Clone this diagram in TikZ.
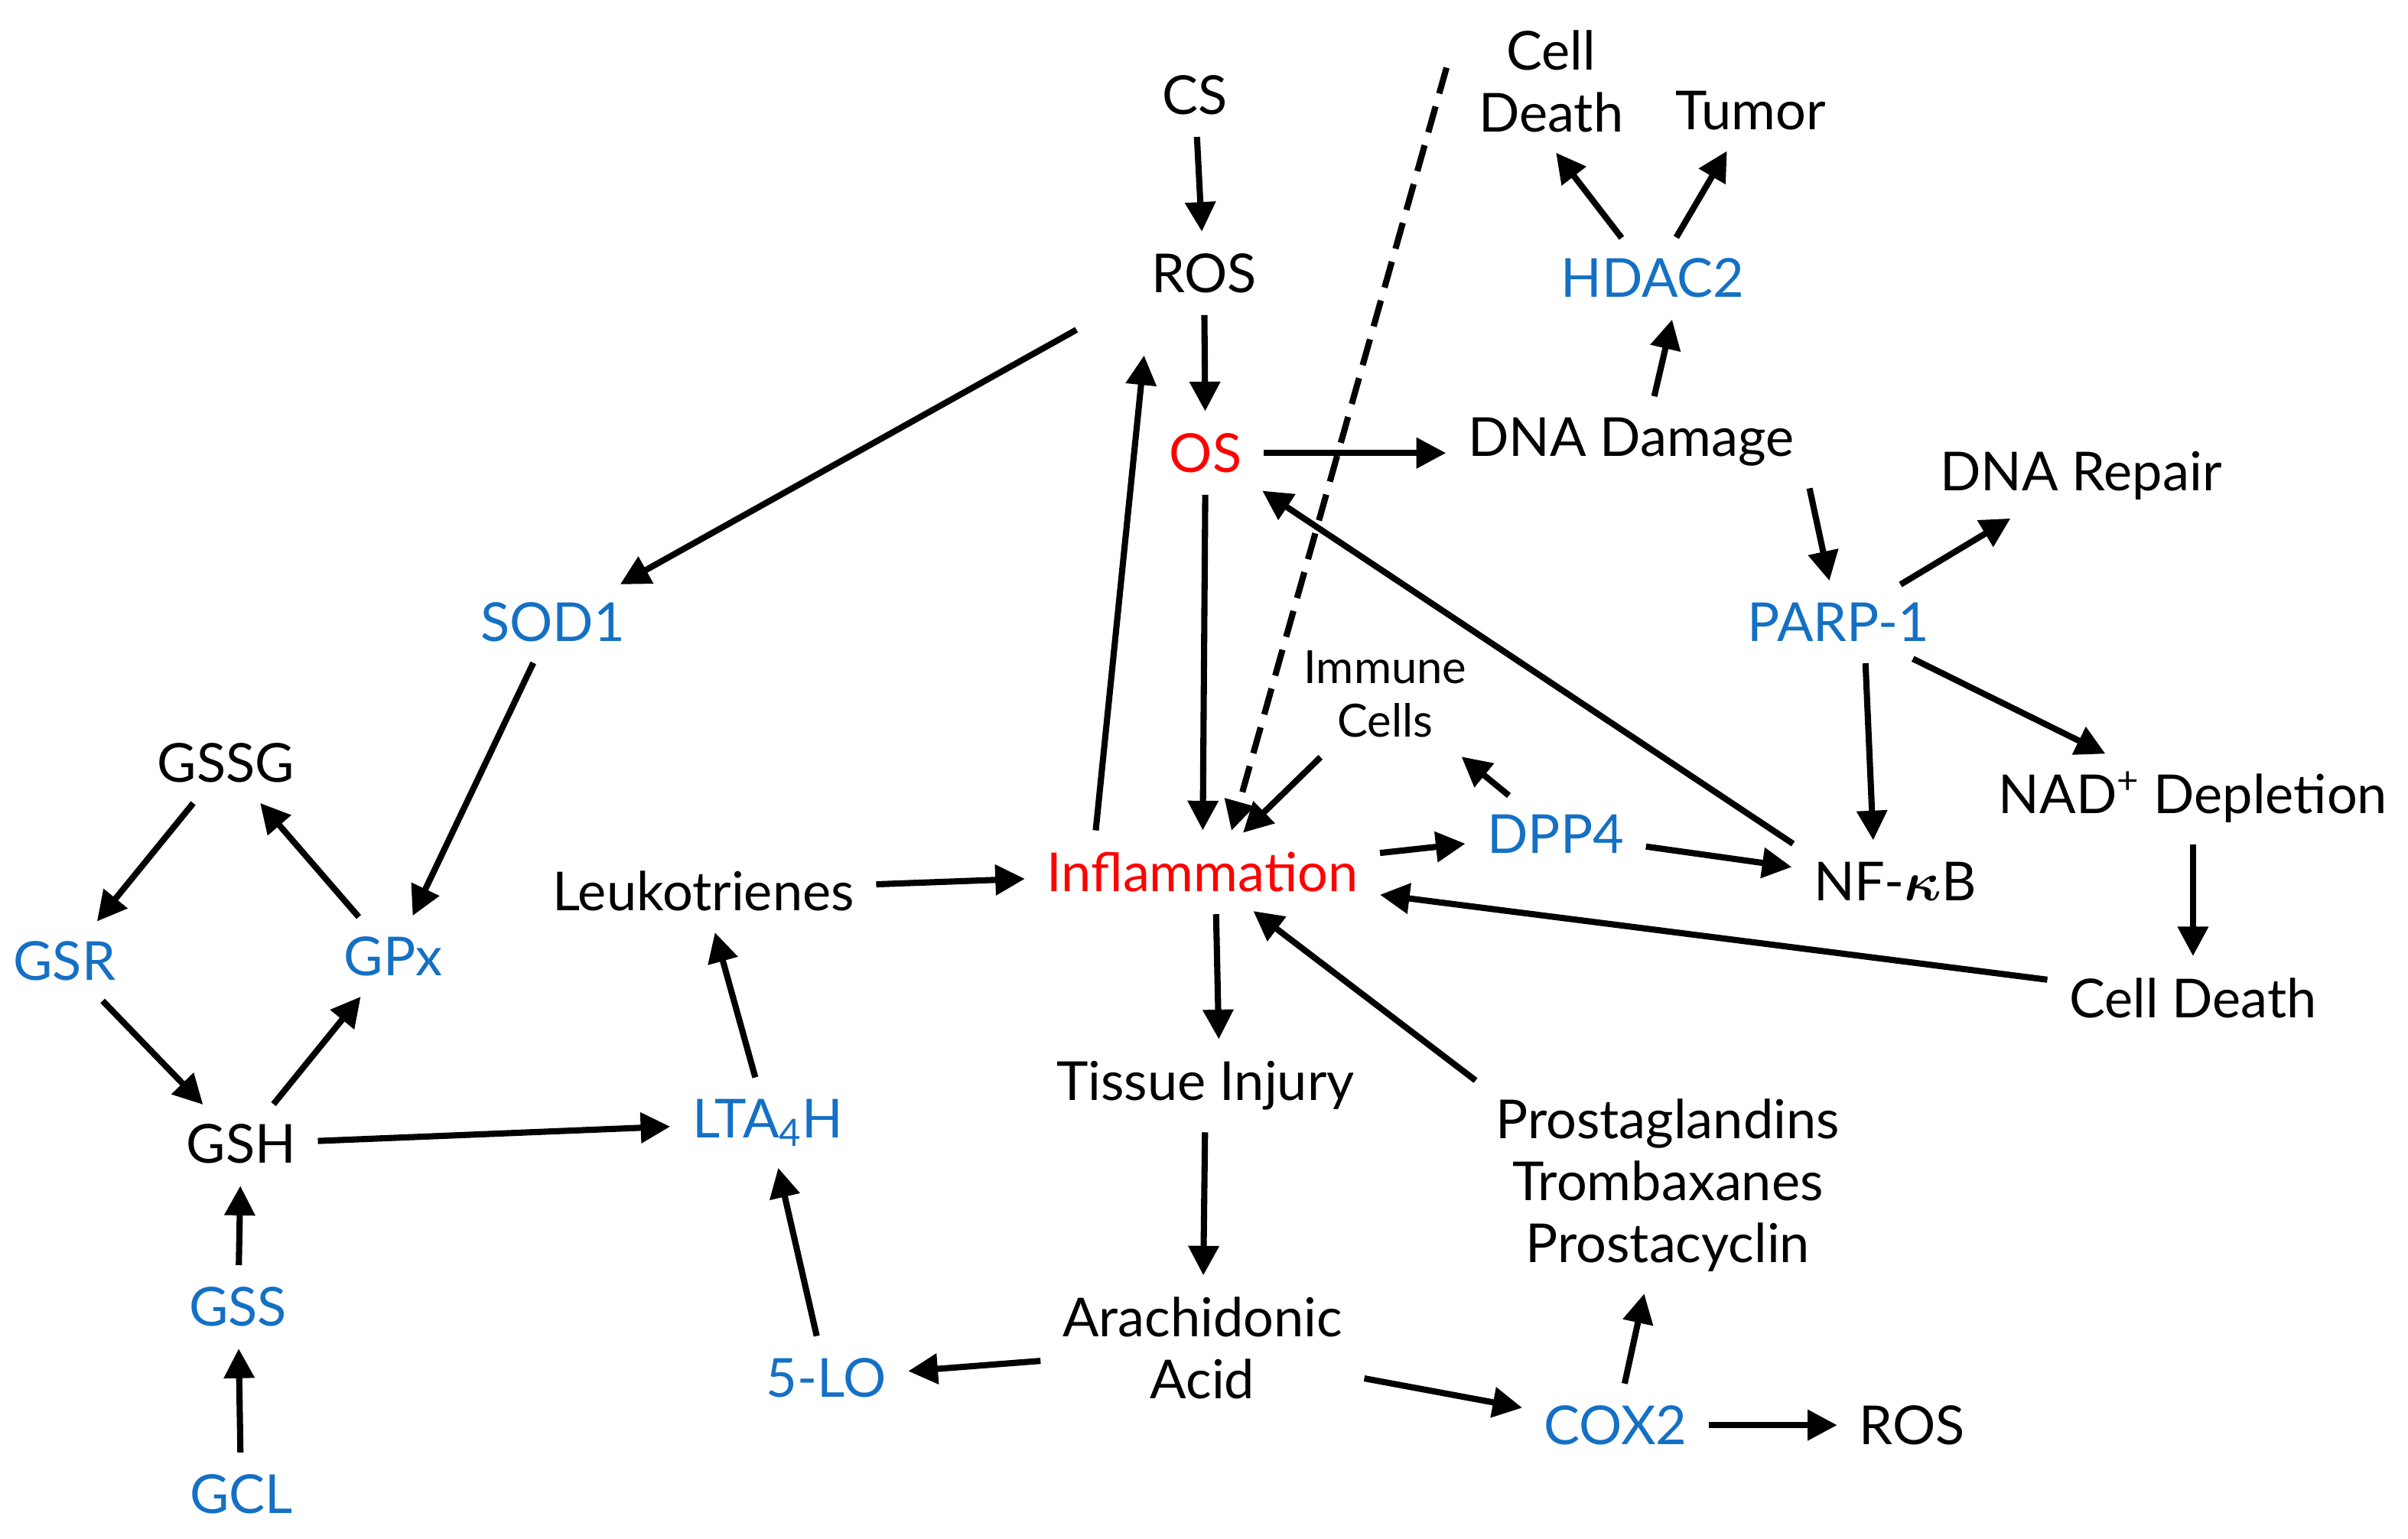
\documentclass[tikz,border=0pt]{standalone}
\usepackage{amsmath,bm}
\usepackage{fontspec}
\setmainfont{Lato}
\usetikzlibrary{arrows.meta}
\definecolor{bl}{RGB}{20,112,196}
\begin{document}
\begin{tikzpicture}[x=0.02008cm,y=-0.02008cm,
  t/.style={font=\fontsize{20}{23}\selectfont,inner sep=5pt,align=center},
  b/.style={t,text=bl},
  r/.style={t,text=red},
  a/.style={line width=2.3pt,-{Triangle[length=11pt,width=11pt]},shorten >=3pt,shorten <=3pt}]
\useasboundingbox (0,0) rectangle (1568,1002);
\node[t] (cs) at (778,62) {CS};
\node[t] (ros) at (784,178) {ROS};
\node[r] (os) at (785,295) {OS};
\node[t] (cd1) at (1010,53) {Cell\\Death};
\node[t] (tum) at (1140,72) {Tumor};
\node[b] (hdac) at (1076,181) {HDAC2};
\node[t] (dna) at (1062,288) {DNA Damage};
\node[t] (rep) at (1355,310) {DNA Repair};
\node[b] (parp) at (1197,405) {PARP-1};
\node[t] (nad) at (1428,519) {NAD\textsuperscript{+} Depletion};
\node[t] (cd2) at (1428,650) {Cell Death};
\node[t] (nfkb) at (1234,574) {NF-$\bm{\kappa}$B};
\node[b] (dpp) at (1013,543) {DPP4};
\node[t,font=\fontsize{17}{20}\selectfont] (imm) at (902,452) {Immune\\Cells};
\node[r] (inf) at (783,568) {Inflammation};
\node[t] (leu) at (458,580) {Leukotrienes};
\node[b] (sod) at (360,405) {SOD1};
\node[t] (gssg) at (147,497) {GSSG};
\node[b] (gsr) at (42,626) {GSR};
\node[b] (gpx) at (256,623) {GPx};
\node[t] (gsh) at (157,745) {GSH};
\node[b] (lta) at (500,731) {LTA\textsubscript{4}H};
\node[b] (gss) at (155,851) {GSS};
\node[b] (gcl) at (157,973) {GCL};
\node[b] (lo) at (538,897) {5-LO};
\node[t] (tis) at (785,707) {Tissue Injury};
\node[t] (ara) at (783,878) {Arachidonic\\Acid};
\node[b] (cox) at (1052,928) {COX2};
\node[t] (ros2) at (1245,928) {ROS};
\node[t] (pro) at (1086,772) {Prostaglandins\\Trombaxanes\\Prostacyclin};
\draw[a] (cs)--(ros);
\draw[a] (ros)--(os);
\draw[a] ([xshift=-20pt,yshift=-7pt]ros.south west)--(sod);
\draw[a] ([xshift=-40pt]inf.north)--([xshift=-22pt,yshift=-15pt]ros.south);
\draw[a] (os)--(inf);
\draw[a] (os.east)--(os.east-|dna.west);
\draw[a] ([xshift=8pt]dna.north)--([xshift=8pt]hdac.south);
\draw[a] (hdac)--(cd1.south);
\draw[a] (hdac)--(tum);
\draw[a] (dna.south east)--(parp);
\draw[a] (parp)--(rep);
\draw[a] (parp)--(nad);
\draw[a] ([xshift=10pt]parp.south)--([xshift=-8pt]nfkb.north);
\draw[a] (nad)--(cd2);
\draw[a] (nfkb.north west)--(os);
\draw[a] (cd2)--(inf);
\draw[a] (dpp)--(nfkb);
\draw[a] (inf)--(dpp);
\draw[a] (dpp)--(imm);
\draw[a] (imm)--(inf);
\draw[a,dash pattern=on 10pt off 5pt] ([xshift=-6pt,yshift=8pt]cd1.west)--([xshift=10pt]inf.north);
\draw[a] (leu)--(inf);
\draw[a] ([xshift=5pt]inf.south)--([xshift=5pt]tis.north);
\draw[a] (tis)--(ara);
\draw[a] (ara)--(lo);
\draw[a] (ara)--(cox);
\draw[a] (cox)--(ros2);
\draw[a] (cox)--(pro);
\draw[a] (pro.north west)--(inf);
\draw[a] (sod)--(gpx);
\draw[a] (gpx)--(gssg);
\draw[a] (gssg)--(gsr);
\draw[a] (gsr)--(gsh);
\draw[a] (gsh)--(gpx);
\draw[a] (gsh)--(lta);
\draw[a] (gss)--(gsh);
\draw[a] (gcl)--(gss);
\draw[a] (lo)--(lta);
\draw[a] (lta)--(leu);
\end{tikzpicture}
\end{document}
